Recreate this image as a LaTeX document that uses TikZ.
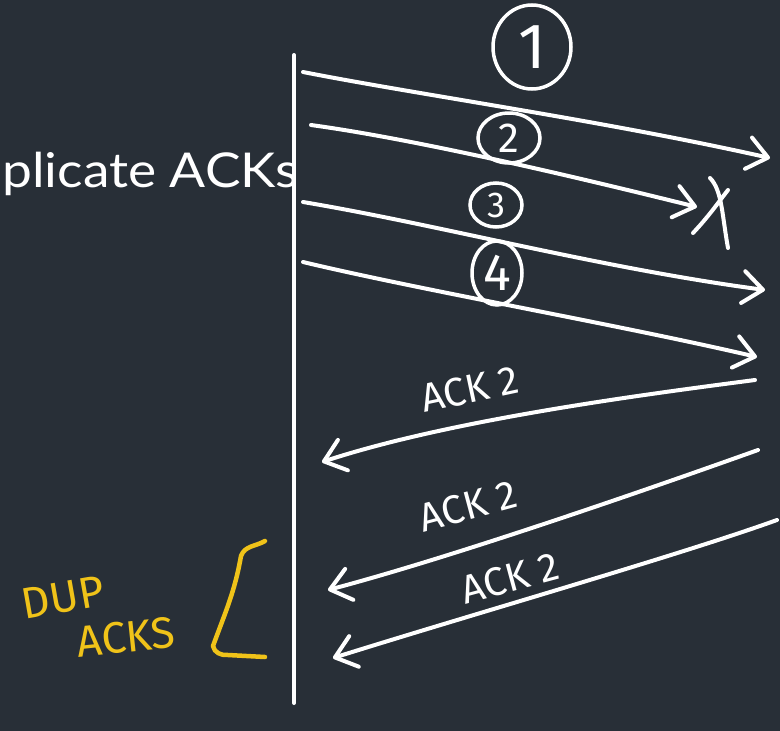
\documentclass[tikz,border=0pt]{standalone}
\usepackage{fontspec}
\setmainfont{Lato}
\newfontfamily\titlefont[FakeStretch=1.11]{Lato}
\newfontfamily\handfont{Fira Sans}
\usetikzlibrary{arrows.meta,shapes.geometric}
\definecolor{board}{RGB}{40,47,55}
\definecolor{marker}{RGB}{240,195,25}

\begin{document}
\begin{tikzpicture}[x=1pt,y=-1pt,
  stroke/.style={draw=white,line width=4pt,line cap=round,line join=round},
  barb/.style={-{Straight Barb[length=20pt,width=32pt,round]}},
  seqnum/.style={ellipse,draw=white,line width=3.5pt,inner sep=0pt,text=white,
    font=\handfont\fontsize{42}{42}\selectfont},
  acklabel/.style={text=white,font=\handfont\fontsize{40}{40}\selectfont,inner sep=0pt},
  hand/.style={text=marker,font=\handfont\fontsize{44}{44}\selectfont,inner sep=0pt}]

% slate board
\fill[board] (0,0) rectangle (780,731);
\useasboundingbox (0,0) rectangle (780,731);
\clip (0,0) rectangle (780,731);

% slide title, cut by the left edge
\node[anchor=base east,inner sep=0pt,text=white,font=\titlefont\fontsize{48}{48}\selectfont]
  (title) at (299,187) {plicate ACKs};

% sender timeline
\coordinate (top) at (294,55);
\coordinate (bot) at (294,703);
\draw[stroke] (top) -- (bot);

% data segments
\coordinate (s1) at (303,72);  \coordinate (e1) at (770,158);
\coordinate (s2) at (311,125); \coordinate (e2) at (697,207);
\coordinate (s3) at (303,202); \coordinate (e3) at (765,290);
\coordinate (s4) at (303,262); \coordinate (e4) at (757,357);
\draw[stroke,barb] (s1) .. controls (420,95) and (600,120) .. (e1);
\draw[stroke,barb] (s2) .. controls (420,140) and (580,178) .. (e2);
\draw[stroke,barb] (s3) .. controls (440,225) and (600,268) .. (e3);
\draw[stroke,barb] (s4) .. controls (420,290) and (620,325) .. (e4);

% segment numbers
\node[seqnum,minimum width=78pt,minimum height=84pt,
  font=\handfont\fontsize{64}{64}\selectfont] (n1) at (532,47) {1};
\node[seqnum,minimum width=62pt,minimum height=50pt] (n2) at (509,138) {2};
\node[seqnum,minimum width=52pt,minimum height=44pt,
  font=\handfont\fontsize{36}{36}\selectfont] (n3) at (496,205) {3};
\node[seqnum,minimum width=50pt,minimum height=64pt,
  font=\handfont\fontsize{52}{52}\selectfont] (n4) at (497,273) {4};

% lost segment mark
\coordinate (xa) at (693,233); \coordinate (xb) at (728,190);
\coordinate (xc) at (710,178); \coordinate (xd) at (728,248);
\draw[stroke] (xa) .. controls (710,215) and (720,200) .. (xb);
\draw[stroke] (xc) .. controls (722,190) and (722,215) .. (xd);

% acknowledgements
\coordinate (a1) at (755,380); \coordinate (b1) at (322,462);
\coordinate (a2) at (758,450); \coordinate (b2) at (328,590);
\coordinate (a3) at (777,520); \coordinate (b3) at (333,658);
\draw[stroke,barb] (a1) .. controls (640,395) and (450,420) .. (b1);
\draw[stroke,barb] (a2) .. controls (660,485) and (460,555) .. (b2);
\draw[stroke,barb] (a3) .. controls (680,555) and (470,615) .. (b3);

\node[acklabel,rotate=12] (l1) at (470,389) {ACK 2};
\node[acklabel,rotate=15] (l2) at (468,506) {ACK 2};
\node[acklabel,rotate=15] (l3) at (510,578) {ACK 2};

% duplicate ACK note
\node[hand,rotate=10] (dup) at (63,598) {DUP};
\node[hand,rotate=6] (acks) at (126,637) {ACKS};
\coordinate (br1) at (265,541);
\coordinate (br2) at (265,657);
\draw[draw=marker,line width=4.5pt,line cap=round,line join=round]
  (br1) to[out=210,in=70] (241,556) to[out=260,in=70] (213,646)
  to[out=-80,in=185] (228,655) -- (br2);
\end{tikzpicture}
\end{document}
